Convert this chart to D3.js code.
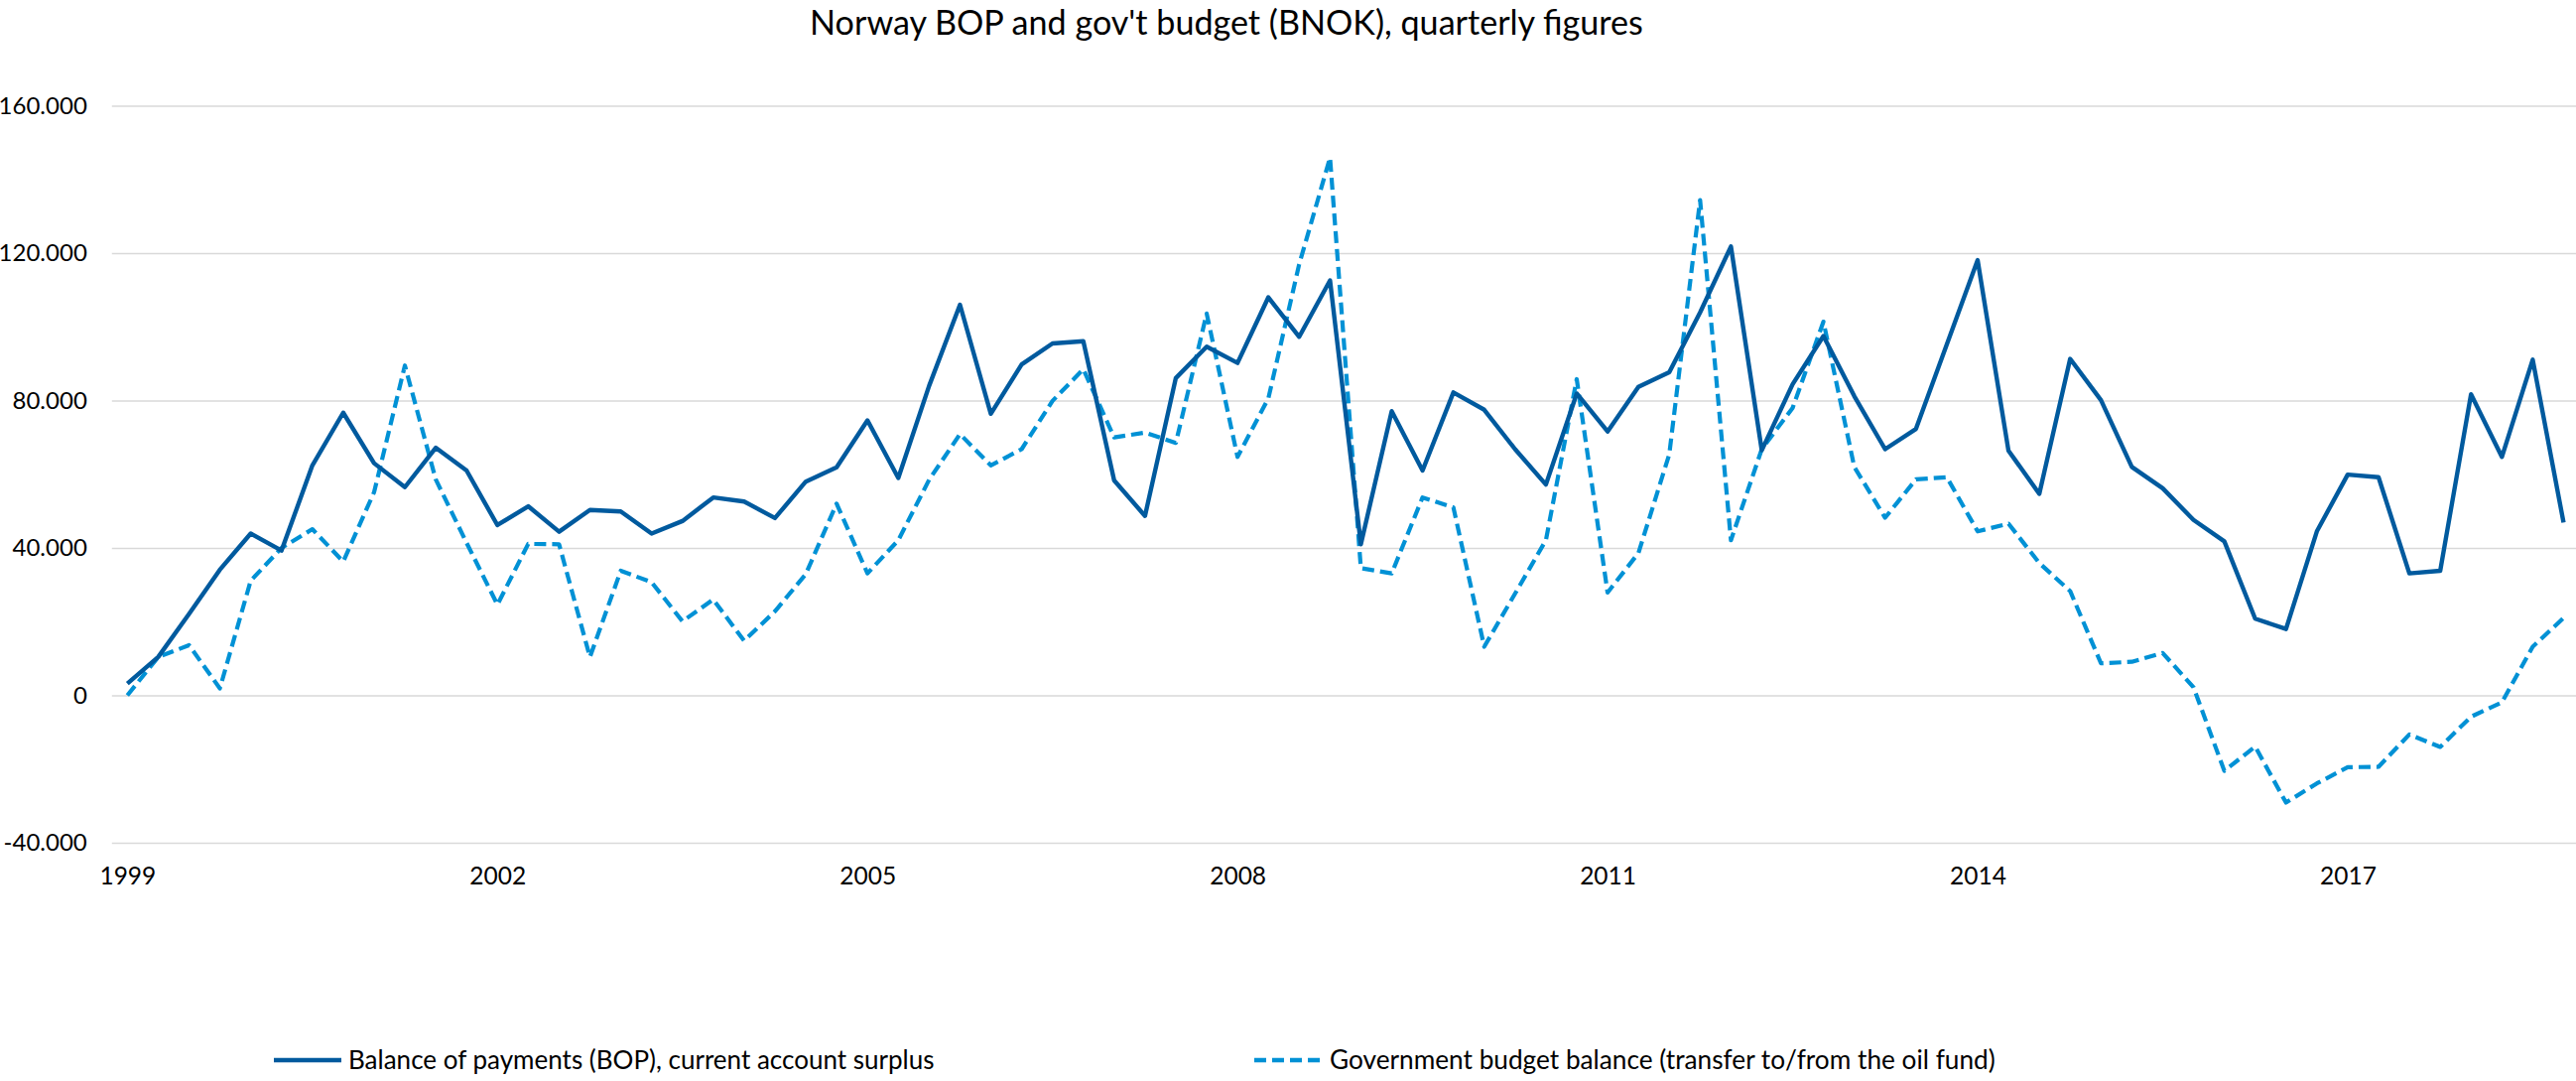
<!DOCTYPE html>
<html>
<head>
<meta charset="utf-8">
<script src="https://cdn.jsdelivr.net/npm/d3@7"></script>
<style>
  html, body { margin: 0; padding: 0; background: #fff; }
  svg { display: block; }
  text { font-family: Lato, "Open Sans", "Liberation Sans", sans-serif; fill: #000; }
</style>
</head>
<body>
<svg id="chart" width="2596" height="1089"></svg>
<script>
// ---------------- DATA ----------------
const title = "Norway BOP and gov't budget (BNOK), quarterly figures";
const years = d3.range(1999, 2019);
const quarterNames = ["Q1", "Q2", "Q3", "Q4"];
const categories = years.flatMap(y => quarterNames.map(q => y + q));   // 1999Q1 .. 2018Q4

const bopSeriesName = "Balance of payments (BOP), current account surplus";
const budgetSeriesName = "Government budget balance (transfer to/from the oil fund)";

const bop = [
  3.2, 10.4, 22.1, 34.1, 43.9, 39.3, 62.4, 76.7, 63.0, 56.5, 67.2, 61.0, 46.2, 51.3,
  44.4, 50.3, 49.9, 43.9, 47.3, 53.7, 52.6, 48.1, 58.0, 61.9, 74.6, 59.0,
  84.0, 106.0, 76.4, 89.8, 95.5, 96.1, 58.3, 48.7, 86.1, 94.6, 90.2, 108.0, 97.3, 112.6,
  41.0, 77.1, 61.0, 82.2, 77.5, 66.8, 57.2, 81.9, 71.6, 83.7, 87.7, 103.9, 121.8, 66.5,
  84.4, 97.5, 81.2, 66.8, 72.3, 95.2, 118.1, 66.4, 54.7, 91.3, 80.1, 62.0, 56.2, 47.6,
  41.8, 20.8, 18.0, 44.5, 59.9, 59.2, 33.1, 33.8, 81.7, 64.7, 91.1, 46.9
];

const budget = [
  0.0, 10.4, 13.6, 1.9, 31.1, 40.0, 45.1, 36.3, 55.1, 89.5, 58.6, 41.4, 24.6, 41.1,
  41.0, 10.4, 33.8, 30.7, 20.1, 26.0, 14.8, 22.8, 32.9, 52.0, 33.1, 42.1,
  58.5, 70.9, 62.4, 66.8, 79.9, 88.5, 70.0, 71.3, 68.5, 103.6, 64.7, 80.6, 117.0, 145.9,
  34.5, 33.1, 53.7, 51.0, 13.2, 27.6, 42.1, 85.8, 27.9, 38.6, 65.4, 134.4, 42.1, 66.8,
  78.0, 101.4, 62.0, 48.2, 58.6, 59.2, 44.5, 46.6, 35.9, 28.3, 8.7, 9.1, 11.5, 2.2,
  -20.5, -13.9, -29.1, -23.9, -19.5, -19.4, -10.6, -14.0, -5.8, -1.9, 13.2, 21.0
];

const yTickValues = [-40, 0, 40, 80, 120, 160];
const yTickLabels = ["-40.000", "0", "40.000", "80.000", "120.000", "160.000"];
const xTickCategories = ["1999Q1", "2002Q1", "2005Q1", "2008Q1", "2011Q1", "2014Q1", "2017Q1"];
const xTickLabels = ["1999", "2002", "2005", "2008", "2011", "2014", "2017"];

// ---------------- LAYOUT ----------------
const svg = d3.select("#chart");
const plot = { left: 112.8, right: 2599, top: 106.5, bottom: 849 };
const colors = { bop: "#005a9e", budget: "#0091d5", grid: "#d9d9d9" };

const x = d3.scalePoint().domain(categories).range([plot.left, plot.right]).padding(0.5);
const y = d3.scaleLinear().domain([-40, 160]).range([plot.bottom, plot.top]);

// gridlines
const yAxis = d3.axisLeft(y)
  .tickValues(yTickValues)
  .tickSize(-(plot.right - plot.left))
  .tickPadding(25)
  .tickFormat((d, i) => yTickLabels[i]);
const gy = svg.append("g").attr("transform", `translate(${plot.left},0)`).call(yAxis);
gy.select(".domain").remove();
gy.selectAll(".tick line").attr("stroke", colors.grid).attr("stroke-width", 1.6);
gy.selectAll(".tick text")
  .attr("font-size", 24).attr("fill", "#000")
  .attr("font-family", "Lato, 'Open Sans', sans-serif");

// x axis labels
const xAxis = d3.axisBottom(x)
  .tickValues(xTickCategories)
  .tickSize(0)
  .tickPadding(25)
  .tickFormat((d, i) => xTickLabels[i]);
const gx = svg.append("g").attr("transform", `translate(0,${plot.bottom})`).call(xAxis);
gx.select(".domain").remove();
gx.selectAll(".tick text")
  .attr("font-size", 24.5).attr("fill", "#000")
  .attr("font-family", "Lato, 'Open Sans', sans-serif");

// lines
const line = d3.line().x((d, i) => x(categories[i])).y(d => y(d));

svg.append("path").datum(budget)
  .attr("fill", "none").attr("stroke", colors.budget)
  .attr("stroke-width", 4.2).attr("stroke-dasharray", "12,6")
  .attr("stroke-linejoin", "round")
  .attr("d", line);

svg.append("path").datum(bop)
  .attr("fill", "none").attr("stroke", colors.bop)
  .attr("stroke-width", 4.4)
  .attr("stroke-linejoin", "round")
  .attr("d", line);

// title (fit width to reference)
const t = svg.append("text")
  .attr("x", 1236).attr("y", 35)
  .attr("text-anchor", "middle")
  .attr("font-size", 32)
  .text(title);
const tw = t.node().getComputedTextLength();
t.attr("font-size", 32 * 840 / tw);

// legend
const legendItems = [
  { name: bopSeriesName, color: colors.bop, dash: null, x0: 276, x1: 344, tx: 351, w: 591 },
  { name: budgetSeriesName, color: colors.budget, dash: "12,6", x0: 1264, x1: 1333, tx: 1340, w: 671 }
];
const ly = 1068;
const lg = svg.append("g");
legendItems.forEach(it => {
  lg.append("line")
    .attr("x1", it.x0).attr("x2", it.x1).attr("y1", ly).attr("y2", ly)
    .attr("stroke", it.color).attr("stroke-width", 4.4)
    .attr("stroke-dasharray", it.dash);
  const lt = lg.append("text")
    .attr("x", it.tx).attr("y", ly).attr("dy", "0.35em")
    .attr("font-size", 26)
    .text(it.name);
  const lw = lt.node().getComputedTextLength();
  lt.attr("font-size", 26 * it.w / lw);
});
</script>
</body>
</html>
